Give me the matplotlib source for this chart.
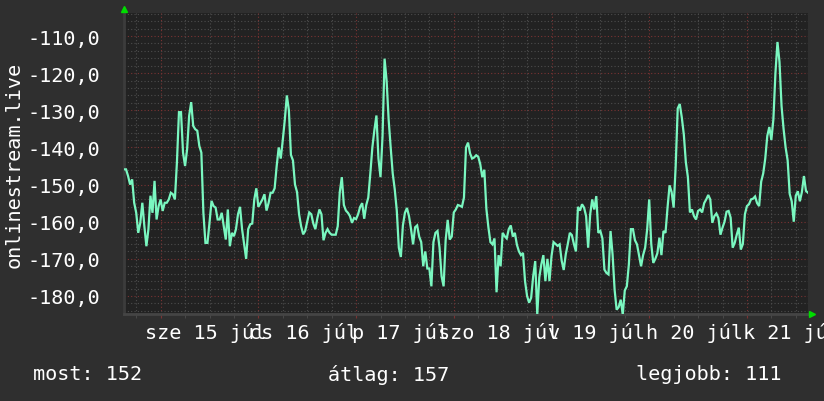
import numpy as np
import matplotlib.pyplot as plt

# 30 perces minták, kezdés: kedd júl 14, 15:00
step_h = 0.5
start_hour = 15

values = [
    # júl 14 délután - júl 15
    -145.9, -145.9, -147.7, -150.0, -148.6, -154.9, -157.6, -163.0, -160.3, -154.9,
    -161.2, -166.6, -162.0, -153.0, -157.6, -149.0, -159.4, -155.8, -154.0, -157.1,
    -154.9, -154.9, -154.0, -152.2, -152.6, -154.0, -144.0, -130.5, -130.5, -141.4,
    -145.0, -140.5, -131.5, -127.8, -134.2, -135.1, -135.5, -139.6, -141.4, -157.6,
    -165.7, -165.7, -160.3, -154.4, -155.8, -156.2, -159.4, -159.4, -157.6, -161.2,
    -164.8, -156.7, -166.6, -163.0, -163.9, -162.0, -158.0, -156.0,
    # júl 16
    -162.0, -166.0, -170.0, -162.0, -160.7, -160.5, -154.0, -151.0, -156.0, -155.0,
    -154.0, -152.6, -157.0, -155.0, -152.2, -152.2, -151.0, -145.0, -140.0, -143.0,
    -138.0, -132.5, -126.0, -130.0, -142.0, -143.5, -150.0, -152.0, -158.0, -161.2,
    -163.4, -162.5, -160.0, -157.5, -158.0, -160.5, -162.0, -159.0, -156.7, -158.0,
    -165.0, -163.0, -162.0, -163.0, -163.5, -163.5, -163.5, -161.2, -152.0, -148.0,
    -155.5, -157.0, -157.6, -158.5, -160.3,
    # júl 17
    -159.0, -159.3, -158.0, -156.0, -155.0, -159.2, -155.5, -153.5, -147.0, -140.0,
    -135.3, -131.4, -143.0, -148.0, -137.0, -116.1, -122.0, -132.5, -140.0, -147.0,
    -151.3, -157.0, -167.0, -169.5, -161.0, -157.6, -156.3, -158.5, -162.0, -166.1,
    -161.5, -161.0, -164.0, -165.5, -172.0, -168.0, -172.6, -172.6, -177.4, -165.5,
    -163.0, -162.5, -167.0, -174.7, -177.4, -165.0, -159.5, -164.8, -164.0, -157.5,
    -156.7, -155.5, -155.7, -156.0, -153.5, -140.0, -138.7,
    # júl 18
    -141.6, -143.0, -142.7, -142.1, -142.5, -144.5, -148.0, -146.0, -156.5, -161.5,
    -165.5, -166.1, -164.5, -179.0, -169.0, -172.0, -163.0, -163.9, -164.5, -162.0,
    -161.0, -164.0, -163.0, -166.2, -168.0, -169.0, -168.4, -176.0, -180.0, -181.8,
    -180.5, -174.7, -170.6, -185.0, -175.0, -171.5, -169.0, -176.0, -170.0, -176.0,
    -169.3, -165.5, -166.0, -166.5, -166.1, -170.5, -173.0, -168.8, -166.0, -163.0,
    -163.6, -166.0, -168.0, -156.0, -157.0, -155.3, -156.2,
    # júl 19-20
    -158.5, -167.0, -158.0, -154.0, -156.7, -153.1, -163.0, -162.5, -164.5, -172.9,
    -173.8, -174.2, -162.5, -168.8, -178.3, -183.7, -183.0, -181.0, -185.0, -178.5,
    -177.4, -171.5, -162.0, -162.0, -165.0, -166.1, -169.0, -172.0, -169.0, -167.0,
    -162.0, -154.0, -166.0, -171.1, -170.0, -168.5, -164.3, -169.0, -162.5, -163.0,
    -156.2, -150.2, -152.0, -156.2, -145.0, -129.5, -128.3, -131.9, -136.5, -144.0,
    -148.0, -157.5, -156.7, -158.5, -159.4,
    # júl 21
    -157.1, -156.7, -157.5, -155.0, -154.0, -152.8, -154.0, -160.3, -158.5, -157.8,
    -159.0, -163.5, -161.6, -160.0, -157.3, -157.1, -158.9, -167.0, -165.7, -163.5,
    -161.6, -167.5, -166.0, -158.0, -155.8, -155.3, -154.0, -153.8, -153.2, -155.0,
    -155.8, -149.2, -147.0, -143.0, -136.9, -134.5, -138.0, -132.4, -120.0, -111.6,
    -117.0, -128.8, -135.0, -140.0, -143.5, -152.5, -154.5, -160.0, -153.0, -151.8,
    -154.5, -152.0, -147.7, -151.7, -152.2,
]

day_labels = ["sze 15 júl", "cs 16 júl", "p 17 júl", "szo 18 júl",
              "v 19 júl", "h 20 júl", "k 21 júl"]
y_ticks = [-110, -120, -130, -140, -150, -160, -170, -180]
summary_names = ["most", "átlag", "legjobb"]
summary_values = [152, 157, 111]

bg = "#2f2f2f"
plot_bg = "#222222"
minor_c = "#4d4d4d"
major_c = "#7a3333"
line_c = "#7af7c0"
mono = "DejaVu Sans Mono"
fs = 14.5

t = np.arange(len(values)) * step_h
t_end = 168

fig = plt.figure(figsize=(8.24, 4.02), dpi=100, facecolor=bg)
ax = fig.add_axes([124 / 824, 87 / 402, 684 / 824, 301 / 402], facecolor=plot_bg)
ax.set_xlim(0, t_end)
ax.set_ylim(-184.85, -103.8)

# rács: vízszintes 2-esével, függőleges 6 óránként
for y in range(-184, -103, 2):
    ax.axhline(y, color=major_c if y % 10 == 0 else minor_c,
               lw=0.8, ls=(0, (1, 2)), zorder=1)
first_midnight = 24 - start_hour
for h in np.arange(first_midnight % 6, t_end, 6):
    is_major = (h - first_midnight) % 24 == 0
    ax.axvline(h, color=major_c if is_major else minor_c,
               lw=0.8, ls=(0, (1, 2)), zorder=1)

ax.plot(t, values, color=line_c, lw=1.6, zorder=3, solid_joinstyle="miter")

# tengelyek
for s in ["top", "right"]:
    ax.spines[s].set_visible(False)
ax.spines["left"].set_color("#3c3c3c")
ax.spines["left"].set_linewidth(2)
ax.spines["bottom"].set_color("#454545")
ax.spines["bottom"].set_linewidth(2)

ax.set_yticks(y_ticks)
ax.set_yticklabels([f"{v:.1f}".replace(".", ",") for v in y_ticks],
                   fontfamily=mono, fontsize=fs, color="white")
ax.tick_params(axis="y", length=0, pad=17)

midnights = np.arange(first_midnight, t_end, 24)
ax.set_xticks(midnights)
ax.set_xticklabels([])
ax.set_xticks(np.arange(first_midnight % 6, t_end, 6), minor=True)
ax.tick_params(axis="x", which="major", length=3, color=major_c, direction="out")
ax.tick_params(axis="x", which="minor", length=3, color=minor_c, direction="out")

for i, lab in enumerate(day_labels):
    ax.text(first_midnight + 12 + 24 * i - 1, -0.06, lab,
            transform=ax.get_xaxis_transform(), ha="center", va="center",
            fontfamily=mono, fontsize=fs, color="white", clip_on=False)

# zöld nyilak
ax.plot([0], [1.013], marker="^", color="#00dd00", ms=5,
        transform=ax.transAxes, clip_on=False, zorder=5)
ax.plot([1.006], [0], marker=">", color="#00dd00", ms=5,
        transform=ax.transAxes, clip_on=False, zorder=5)

fig.text(14 / 824, 1 - 165 / 402, "onlinestream.live", rotation=90,
         ha="center", va="center", fontfamily=mono, fontsize=fs, color="white")

for name, val, x in zip(summary_names, summary_values, [33, 328, 636]):
    fig.text(x / 824, 1 - 375 / 402, f"{name}: {val}", ha="left", va="center",
             fontfamily=mono, fontsize=fs, color="white")

fig.savefig("out.png", dpi=100, facecolor=bg)
